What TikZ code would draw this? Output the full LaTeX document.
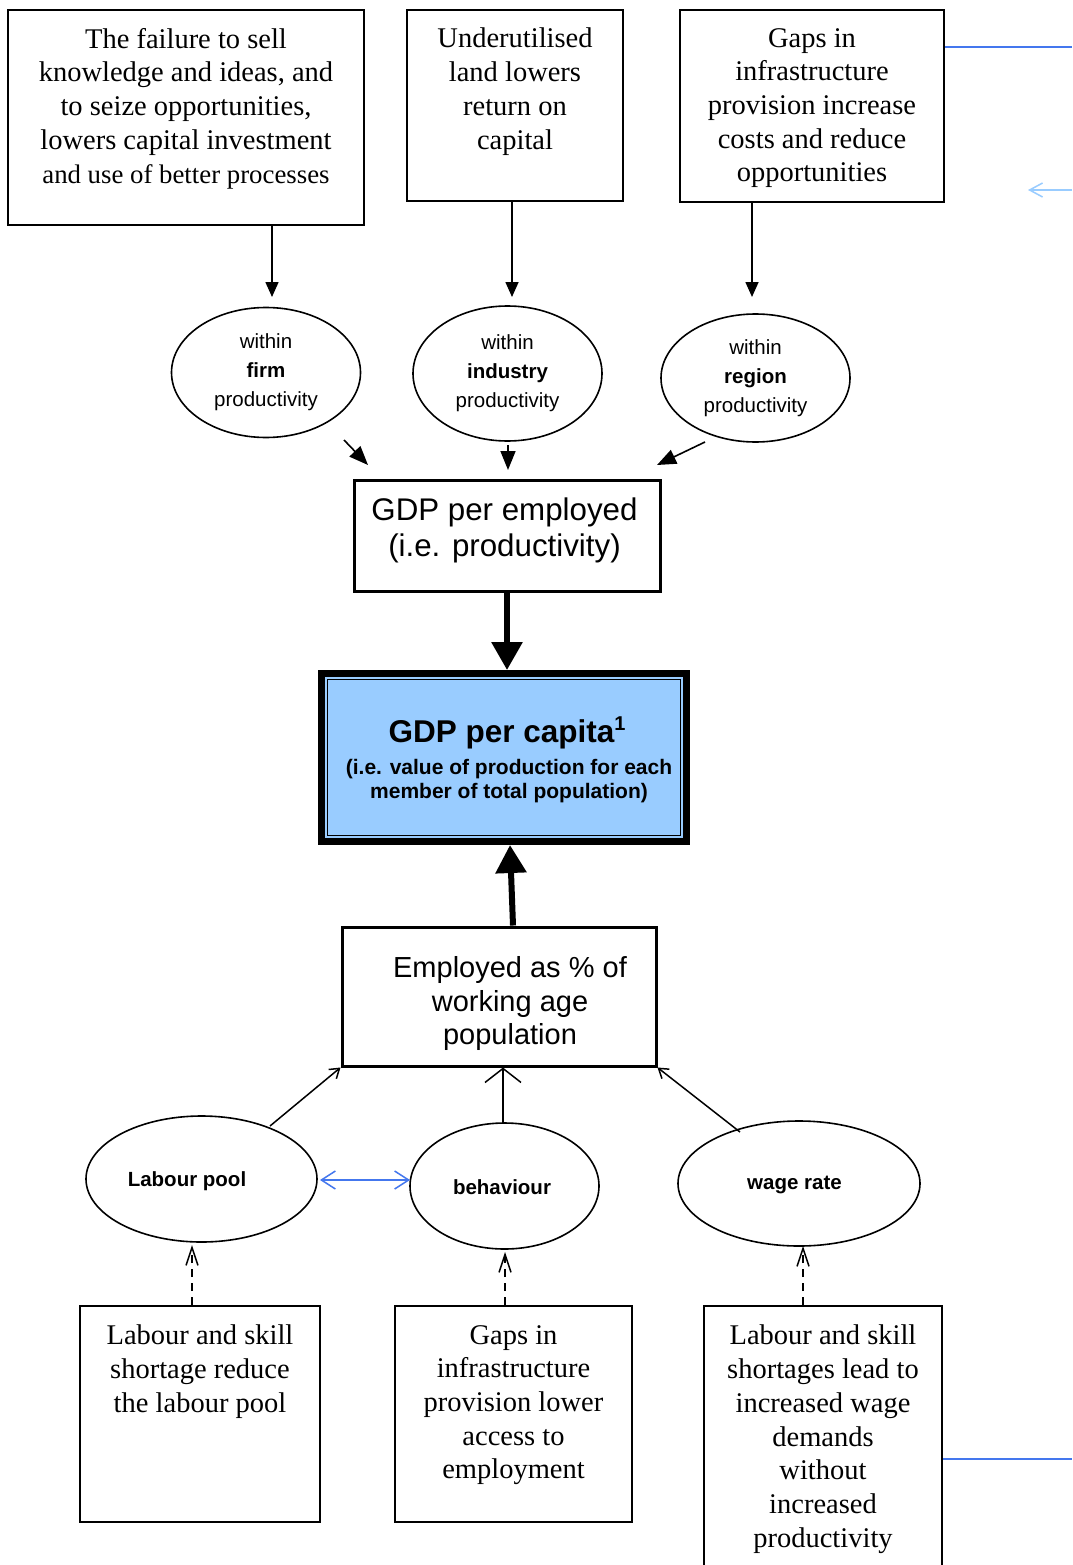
\documentclass[tikz,border=0pt]{standalone}
\usepackage{fontspec}
\setmainfont{Liberation Serif}
\setsansfont{Liberation Sans}
\usetikzlibrary{shapes.geometric,arrows.meta,calc}
\definecolor{capblue}{HTML}{99CCFF}
\definecolor{linkblue}{HTML}{4477EE}
\definecolor{paleblue}{HTML}{99CCFF}
\begin{document}
\begin{tikzpicture}[x=1pt,y=-1pt,
  boxst/.style={draw, line width=2pt, inner sep=0pt},
  serift/.style={font=\fontsize{28.5}{33.7}\selectfont, align=center, inner sep=0pt, anchor=north},
  sanst/.style={font=\sffamily\fontsize{29.5}{35}\selectfont, align=center, inner sep=0pt},
  ellst/.style={ellipse, draw, line width=1.6pt, inner sep=0pt, align=center, font=\sffamily\fontsize{20.5}{29}\selectfont},
  elllab/.style={font=\sffamily\bfseries\fontsize{20.5}{24}\selectfont, inner sep=0pt},
  tri/.style={line width=1.6pt, -{Triangle[length=15pt,width=13pt]}},
  trid/.style={line width=1.6pt, -{Triangle[length=19pt,width=15pt]}},
  bigarr/.style={line width=6pt, -{Triangle[length=28pt,width=30pt]}},
  smallbarb/.style={line width=1.5pt, -{Straight Barb[length=9pt,width=12pt]}},
  widebarb/.style={line width=1.5pt, -{Straight Barb[length=14pt,width=36pt]}},
  dasharr/.style={line width=1.5pt, dash pattern=on 8pt off 6pt, -{Straight Barb[length=18pt,width=12pt]}},
]
\clip (0,0) rectangle (1072,1565);
\fill[white] (0,0) rectangle (1072,1565);

% top boxes
\node[boxst, minimum width=356pt, minimum height=215pt] (b1) at (186,117.5) {};
\node[serift] (b1t) at ($(b1.north)+(0,19)$) {The failure to sell\\knowledge and ideas, and\\to seize opportunities,\\lowers capital investment\\{\fontsize{26.8}{31.5}\selectfont and use of better processes}};
\node[boxst, minimum width=216pt, minimum height=191pt] (b2) at (515,105.5) {};
\node[serift] (b2t) at ($(b2.north)+(0,19)$) {Underutilised\\land lowers\\return on\\capital};
\node[boxst, minimum width=264pt, minimum height=192pt] (b3) at (812,106) {};
\node[serift] (b3t) at ($(b3.north)+(0,19)$) {Gaps in\\infrastructure\\provision increase\\costs and reduce\\opportunities};

% blue links on the right
\coordinate (bl1) at (1072,47);
\draw[linkblue, line width=2pt] (b3.east |- bl1) -- (bl1);
\coordinate (la1) at (1072,190);
\coordinate (la2) at (1028,190);
\draw[paleblue, line width=1.5pt, -{Straight Barb[length=13pt,width=14pt]}] (la1) -- (la2);

% ellipses (productivity)
\node[ellst, minimum width=189pt, minimum height=130pt] (ef) at (266,372.5) {within\\\textbf{firm}\\productivity};
\node[ellst, minimum width=189pt, minimum height=135pt] (ei) at (507.5,373.5) {within\\\textbf{industry}\\productivity};
\node[ellst, minimum width=189pt, minimum height=128pt] (er) at (755.5,378) {within\\\textbf{region}\\productivity};

\coordinate (t1) at (272,297);
\coordinate (t2) at (512,297);
\coordinate (t3) at (752,297);
\draw[tri] (b1.south -| t1) -- (t1);
\draw[tri] (b2.south -| t2) -- (t2);
\draw[tri] (b3.south -| t3) -- (t3);

% GDP per employed
\node[boxst, line width=3pt, minimum width=306pt, minimum height=111pt] (gemp) at (507,535.5) {};
\node[sanst, font=\sffamily\fontsize{31.3}{36}\selectfont] (gempt) at (504.5,530.5) {GDP per employed\\(i.e. productivity)};

\coordinate (f1) at (344,440); \coordinate (f2) at (368,465);
\coordinate (i1) at (508,445); \coordinate (i2) at (508,470);
\coordinate (r1) at (705,442); \coordinate (r2) at (657,465);
\draw[trid] (f1) -- (f2);
\draw[trid] (i1) -- (i2);
\draw[trid] (r1) -- (r2);

% GDP per capita
\node[draw=black, line width=7pt, fill=capblue, minimum width=365pt, minimum height=168pt, inner sep=0pt] (cap) at (504,757.5) {};
\node[draw=black, line width=1pt, minimum width=353pt, minimum height=156pt, inner sep=0pt] (capin) at (504,757.5) {};
\node[inner sep=0pt, font=\sffamily\bfseries\fontsize{31.5}{36}\selectfont] (capt1) at (507,733) {GDP per capita\raisebox{12pt}{\fontsize{20}{20}\selectfont 1}};
\node[inner sep=0pt, align=center, font=\sffamily\bfseries\fontsize{21}{24}\selectfont] (capt2) at (509,781.5) {(i.e. value of production for each\\member of total population)};

\draw[bigarr] (gemp.south) -- (gemp.south |- cap.north);

% Employed box
\node[boxst, line width=3pt, minimum width=314pt, minimum height=139pt] (emp) at (499,996.5) {};
\node[sanst, font=\sffamily\fontsize{29}{33.7}\selectfont] (empt) at (510,1003.5) {Employed as \% of\\working age\\population};

\draw[bigarr] ($(emp.north)+(14,0)$) -- ($(cap.south)+(6,0)$);

% bottom ellipses
\node[ellst, minimum width=231pt, minimum height=126pt] (elp) at (201.5,1179) {};
\node[elllab] (elpt) at (187,1181) {Labour pool};
\node[ellst, minimum width=189pt, minimum height=126pt] (eb) at (504.5,1186) {};
\node[elllab] (ebt) at (502,1187) {behaviour};
\node[ellst, minimum width=242pt, minimum height=125pt] (ew) at (799,1183.5) {};
\node[elllab] (ewt) at (794.5,1185) {wage rate};

\coordinate (lp1) at (270,1126);
\coordinate (bh1) at (503,1123);
\coordinate (wg1) at (740,1132);
\draw[smallbarb] (lp1) -- (emp.south west);
\draw[widebarb] (bh1) -- (emp.south -| bh1);
\draw[smallbarb] (wg1) -- (emp.south east);

\coordinate (dl) at (320,1180);
\coordinate (dr) at (410,1180);
\draw[linkblue, line width=1.5pt, {Straight Barb[length=14pt,width=18pt]}-{Straight Barb[length=14pt,width=18pt]}] (dl) -- (dr);

% bottom boxes
\node[boxst, minimum width=240pt, minimum height=216pt] (b4) at (200,1414) {};
\node[serift] (b4t) at ($(b4.north)+(0,20)$) {Labour and skill\\shortage reduce\\the labour pool};
\node[boxst, minimum width=237pt, minimum height=216pt] (b5) at (513.5,1414) {};
\node[serift] (b5t) at ($(b5.north)+(0,20)$) {Gaps in\\infrastructure\\provision lower\\access to\\employment};
\node[boxst, minimum width=238pt, minimum height=280pt] (b6) at (823,1446) {};
\node[serift] (b6t) at ($(b6.north)+(0,20)$) {Labour and skill\\shortages lead to\\increased wage\\demands\\without\\increased\\productivity};

\coordinate (d1) at (192,1245);
\coordinate (d2) at (505,1252);
\coordinate (d3) at (803,1246);
\draw[dasharr] (b4.north -| d1) -- (d1);
\draw[dasharr] (b5.north -| d2) -- (d2);
\draw[dasharr] (b6.north -| d3) -- (d3);

\coordinate (bl2) at (1072,1459);
\draw[linkblue, line width=2pt] (b6.east |- bl2) -- (bl2);
\end{tikzpicture}
\end{document}
